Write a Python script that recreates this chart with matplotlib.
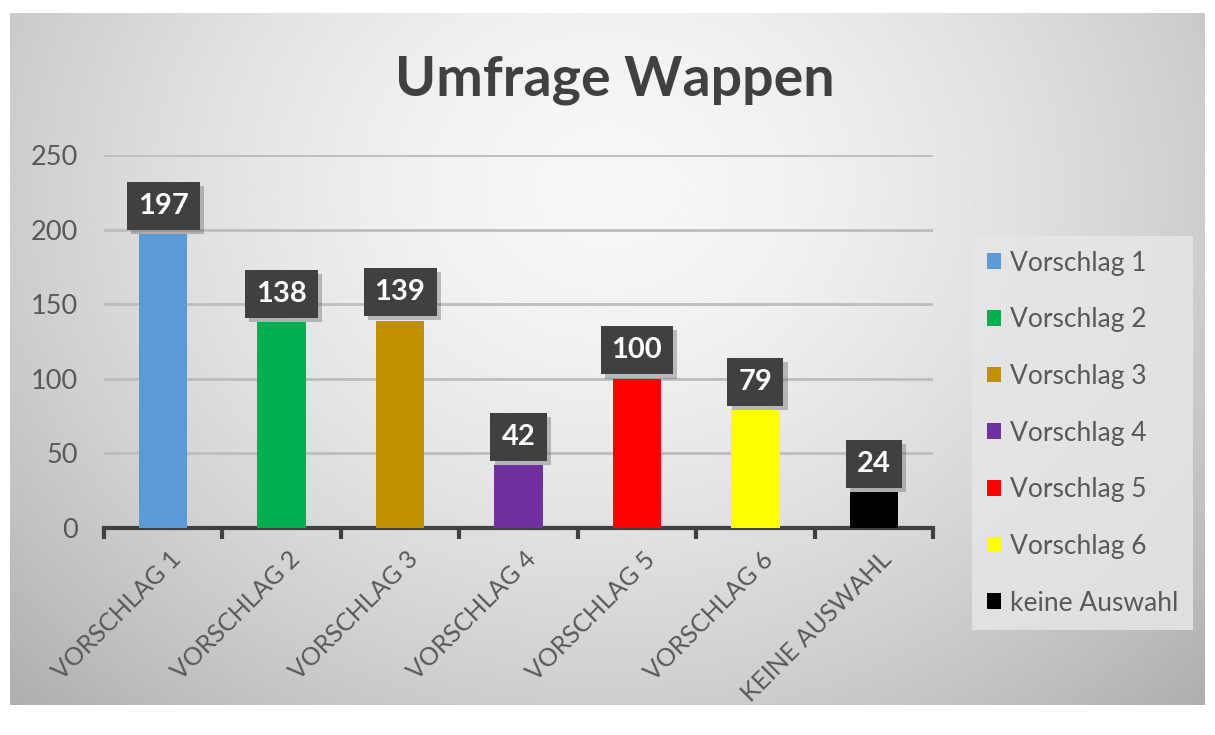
import numpy as np
import matplotlib
matplotlib.use("Agg")
import matplotlib.pyplot as plt
from matplotlib.patches import Patch
import matplotlib.patheffects as pe
import matplotlib.transforms as mtransforms

plt.rcParams['font.family'] = ['Lato', 'DejaVu Sans']

categories = ["VORSCHLAG 1", "VORSCHLAG 2", "VORSCHLAG 3", "VORSCHLAG 4",
              "VORSCHLAG 5", "VORSCHLAG 6", "KEINE AUSWAHL"]
legend_labels = ["Vorschlag 1", "Vorschlag 2", "Vorschlag 3", "Vorschlag 4",
                 "Vorschlag 5", "Vorschlag 6", "keine Auswahl"]
values = [197, 138, 139, 42, 100, 79, 24]
colors = ["#5b9bd5", "#00b050", "#bf9000", "#7030a0", "#ff0000", "#ffff00", "#000000"]
yticks = [0, 50, 100, 150, 200, 250]
title = "Umfrage Wappen"

W, H = 1215, 735
fig = plt.figure(figsize=(W / 100, H / 100), dpi=100)
fig.patch.set_facecolor("white")

# gradient background frame
bg = fig.add_axes([10 / W, 1 - 705 / H, 1195 / W, 692 / H])
yy, xx = np.mgrid[0:1:300j, 0:1:500j]
r = np.sqrt(((xx - 0.5) / 0.6) ** 2 + ((yy - 0.25) / 0.9) ** 2)
img = 0.97 - 0.22 * r ** 1.6
bg.imshow(img, cmap="gray", vmin=0, vmax=1, aspect="auto",
          extent=[0, 1, 1, 0], interpolation="bilinear")
bg.set_axis_off()
bg.set_zorder(0)

ax = fig.add_axes([104 / W, 1 - 528 / H, 829 / W, 373 / H])
ax.set_zorder(1)
ax.patch.set_alpha(0)

x = np.arange(len(categories))
ax.bar(x, values, width=0.41, color=colors, zorder=3)
ax.set_xlim(-0.5, len(categories) - 0.5)
ax.set_ylim(0, 250)
ax.set_yticks(yticks)
ax.yaxis.grid(True, color="#bdbdbd", linewidth=2, zorder=0)
ax.set_axisbelow(True)
for s in ["top", "right", "left"]:
    ax.spines[s].set_visible(False)
ax.spines["bottom"].set_color("#404040")
ax.spines["bottom"].set_linewidth(3)
ax.tick_params(axis="y", length=0, labelsize=19.5, labelcolor="#595959", pad=19)
ax.set_xticks(np.arange(len(categories) + 1) - 0.5, minor=True)
ax.set_xticks(x)
ax.set_xticklabels(categories, rotation=45, ha="right", rotation_mode="anchor",
                   fontsize=18, color="#595959")
ax.tick_params(axis="x", which="major", length=0, pad=14)
ax.tick_params(axis="x", which="minor", length=8, width=3, color="#404040", direction="out")
offset = mtransforms.ScaledTranslation(6 / 100, 0, fig.dpi_scale_trans)
for lab in ax.get_xticklabels():
    lab.set_transform(lab.get_transform() + offset)

for xi, v in zip(x, values):
    a = ax.annotate(str(v), (xi, v), xytext=(0, 20.5), textcoords="offset points",
                    ha="center", va="center", fontsize=21, fontweight="bold", color="white",
                    bbox=dict(boxstyle="square,pad=0.38", facecolor="#404040", edgecolor="none"),
                    zorder=5)
    a.get_bbox_patch().set_path_effects([
        pe.SimplePatchShadow(offset=(3, -3), shadow_rgbFace="#555555", alpha=0.35),
        pe.Normal()])

fig.text(615 / W, 1 - 80 / H, title, ha="center", va="center", fontsize=40,
         fontweight="bold", color="#404040")

handles = [Patch(facecolor=c, edgecolor="none") for c in colors]
leg = fig.legend(handles, legend_labels, loc="upper left",
                 bbox_to_anchor=(972 / W, 1 - 236 / H), fontsize=19,
                 frameon=True, fancybox=False, facecolor="#e6e6e6", edgecolor="none",
                 framealpha=0.85, handlelength=0.55, handleheight=0.55,
                 handletextpad=0.35, labelspacing=1.2, borderpad=0.55,
                 borderaxespad=0)
for t in leg.get_texts():
    t.set_color("#595959")

fig.savefig("out.png", dpi=100, facecolor="white")
